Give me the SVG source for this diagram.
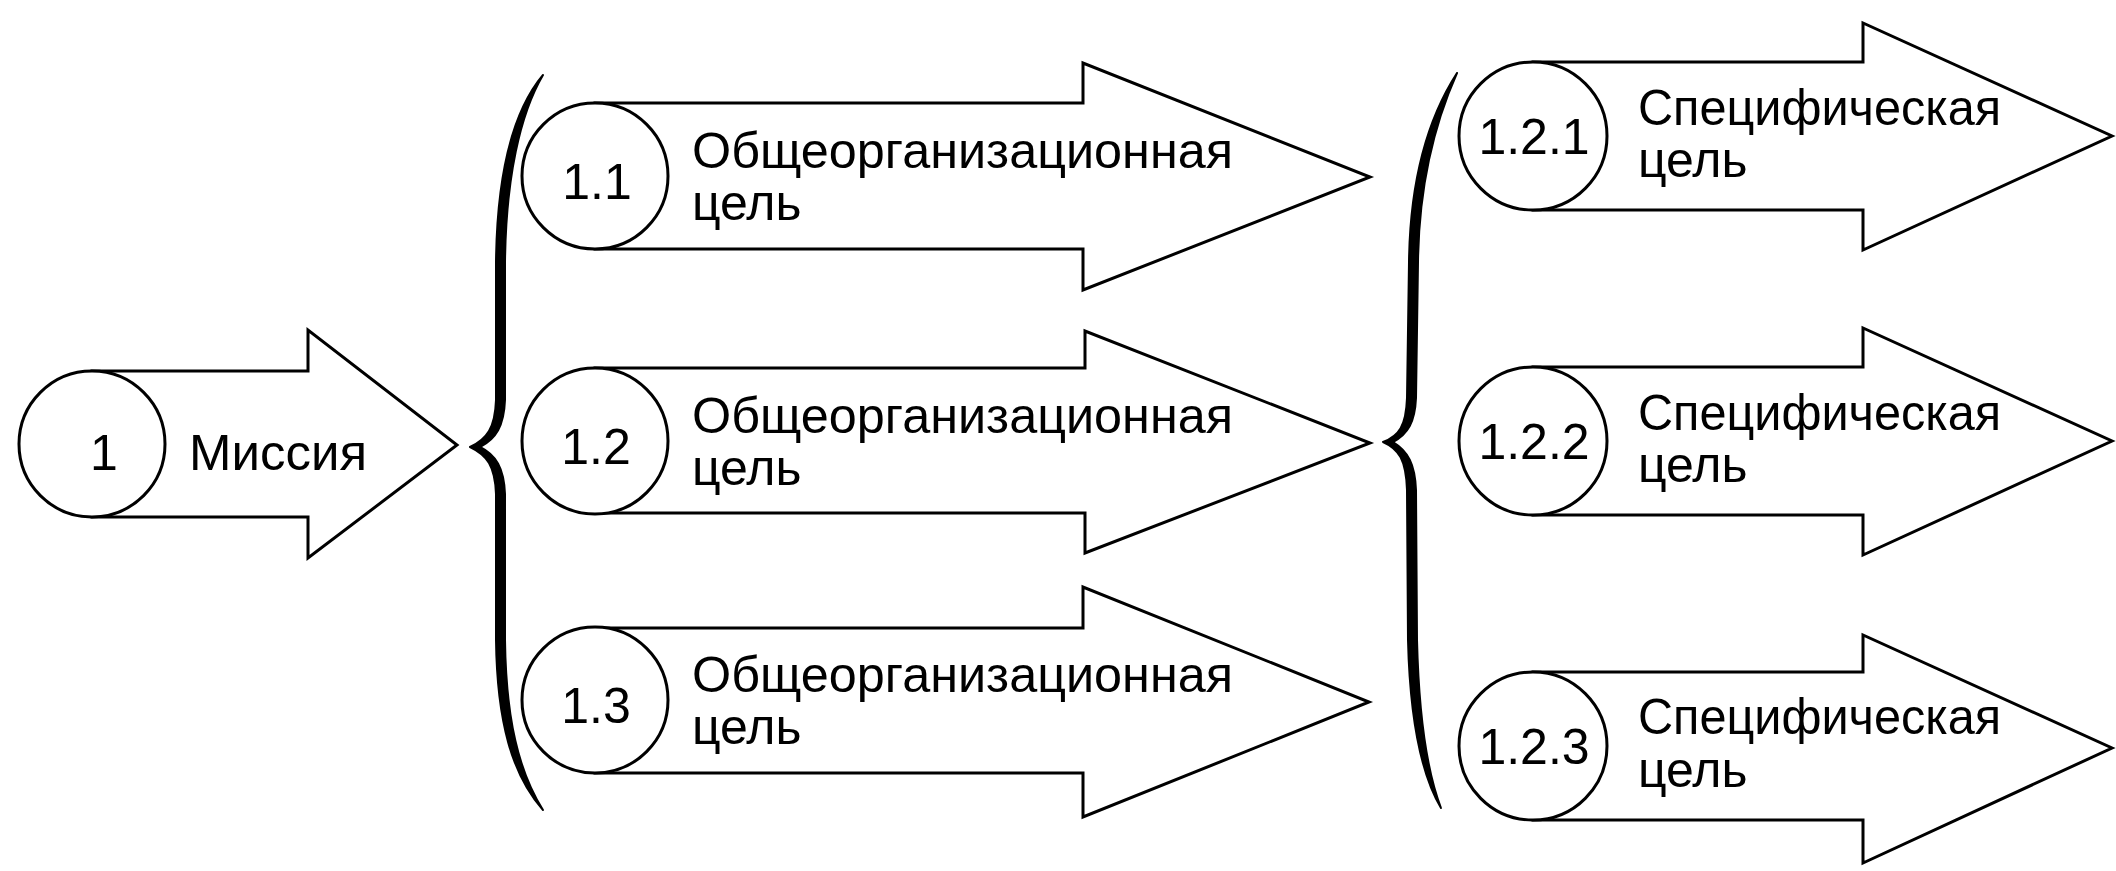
<svg xmlns="http://www.w3.org/2000/svg" width="2116" height="871" viewBox="0 0 2116 871">
<style>
.arrow{fill:#fff;stroke:#000;stroke-width:3;stroke-linejoin:miter}
.circ{fill:#fff;stroke:#000;stroke-width:3}
.t{font-family:"Liberation Sans",Arial,sans-serif;font-size:50px;fill:#000}
.lbl{text-anchor:middle}
.brace{fill:#000;stroke:#000;stroke-width:2;stroke-linejoin:round}
</style>
<rect width="2116" height="871" fill="#fff"/>
<g id="connectors">
<path class="brace" d="M543,75 C512,112 497,175 496,262 L496,400 C495,428 487,439 470,447 C487,455 495,466 496,494 L496,640 C497,722 512,775 543,810 C519,772 506,720 505,640 L505,494 C504,468 496,455 480,447 C496,439 504,426 505,400 L505,262 C506,178 520,114 543,75 Z"/>
<path class="brace" d="M1457,73 C1428,118 1410,180 1409,262 L1407,398 C1406,426 1399,436 1383,442 C1399,449 1406,460 1407,490 L1408,640 C1410,722 1422,776 1441,808 C1428,774 1419,722 1417,640 L1416,490 C1415,464 1408,451 1393,442 C1408,434 1415,422 1416,398 L1418,262 C1419,182 1436,120 1457,73 Z"/>
</g>
<g id="n1">
<path class="arrow" d="M92,371 H308 V330 L457,445 L308,558 V517 H92 Z"/>
<circle class="circ" cx="92" cy="444" r="73"/>
<text class="t" x="90" y="470">1</text>
<text class="t" x="189" y="470" textLength="178" lengthAdjust="spacingAndGlyphs">Миссия</text>
</g>
<g id="n1-1">
<path class="arrow" d="M595,103 H1083 V63 L1370,177 L1083,290 V249 H595 Z"/>
<circle class="circ" cx="595" cy="176" r="73"/>
<text class="t lbl" x="597" y="199">1.1</text>
<text class="t"><tspan x="692" y="168" textLength="541" lengthAdjust="spacingAndGlyphs">Общеорганизационная</tspan><tspan x="692" y="220">цель</tspan></text>
</g>
<g id="n1-2">
<path class="arrow" d="M595,368 H1085 V331 L1370,443 L1085,553 V513 H595 Z"/>
<circle class="circ" cx="595" cy="441" r="73"/>
<text class="t lbl" x="596" y="464">1.2</text>
<text class="t"><tspan x="692" y="433" textLength="541" lengthAdjust="spacingAndGlyphs">Общеорганизационная</tspan><tspan x="692" y="485">цель</tspan></text>
</g>
<g id="n1-3">
<path class="arrow" d="M595,628 H1083 V587 L1369,702 L1083,817 V773 H595 Z"/>
<circle class="circ" cx="595" cy="700" r="73"/>
<text class="t lbl" x="596" y="723">1.3</text>
<text class="t"><tspan x="692" y="692" textLength="541" lengthAdjust="spacingAndGlyphs">Общеорганизационная</tspan><tspan x="692" y="744">цель</tspan></text>
</g>
<g id="n1-2-1">
<path class="arrow" d="M1533,62 H1863 V23 L2112,136 L1863,250 V210 H1533 Z"/>
<circle class="circ" cx="1533" cy="136" r="74"/>
<text class="t lbl" x="1534" y="154">1.2.1</text>
<text class="t"><tspan x="1638" y="125" textLength="363" lengthAdjust="spacingAndGlyphs">Специфическая</tspan><tspan x="1638" y="177">цель</tspan></text>
</g>
<g id="n1-2-2">
<path class="arrow" d="M1533,367 H1863 V328 L2112,441 L1863,555 V515 H1533 Z"/>
<circle class="circ" cx="1533" cy="441" r="74"/>
<text class="t lbl" x="1534" y="459">1.2.2</text>
<text class="t"><tspan x="1638" y="430" textLength="363" lengthAdjust="spacingAndGlyphs">Специфическая</tspan><tspan x="1638" y="482">цель</tspan></text>
</g>
<g id="n1-2-3">
<path class="arrow" d="M1533,672 H1863 V635 L2112,748 L1863,863 V820 H1533 Z"/>
<circle class="circ" cx="1533" cy="746" r="74"/>
<text class="t lbl" x="1534" y="764">1.2.3</text>
<text class="t"><tspan x="1638" y="734" textLength="363" lengthAdjust="spacingAndGlyphs">Специфическая</tspan><tspan x="1638" y="787">цель</tspan></text>
</g>
</svg>
